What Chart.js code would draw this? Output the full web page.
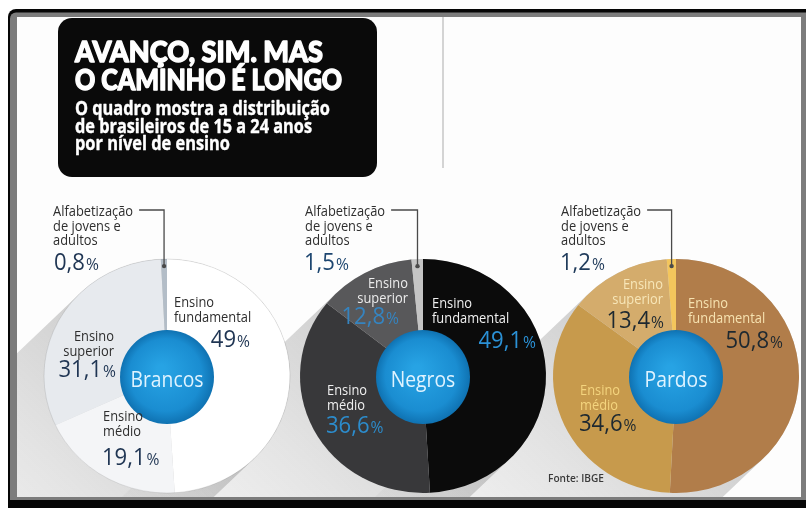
<!DOCTYPE html>
<html>
<head>
<meta charset="utf-8">
<script src="https://cdn.jsdelivr.net/npm/chart.js@4/dist/chart.umd.min.js"></script>
<style>
  html, body { margin: 0; padding: 0; background: #fff; overflow: hidden; }
  #wrap { position: relative; width: 806px; height: 508px; }
  #wrap canvas { position: absolute; left: 0; top: 0; }
</style>
</head>
<body>
<div id="wrap">
  <canvas id="bg" width="806" height="508"></canvas>
  <canvas id="pardos" width="806" height="508"></canvas>
  <canvas id="negros" width="806" height="508"></canvas>
  <canvas id="brancos" width="806" height="508"></canvas>
</div>
<script>
// ---- data -------------------------------------------------------------
// education levels, clockwise from 12 o'clock
const levels = ['Ensino fundamental', 'Ensino médio', 'Ensino superior', 'Alfabetização de jovens e adultos'];
const levelLines = [['Ensino', 'fundamental'], ['Ensino', 'médio'], ['Ensino', 'superior'], ['Alfabetização', 'de jovens e', 'adultos']];
const groups = ['Brancos', 'Negros', 'Pardos'];
// share of Brazilians aged 15-24 per level (%)
const brancos = [49, 19.1, 31.1, 0.8];
const negros  = [49.1, 36.6, 12.8, 1.5];
const pardos  = [50.8, 34.6, 13.4, 1.2];

const titleLines = ['AVANÇO, SIM. MAS', 'O CAMINHO É LONGO'];
const subtitleLines = ['O quadro mostra a distribuição', 'de brasileiros de 15 a 24 anos', 'por nível de ensino'];
const source = 'Fonte: IBGE';

// ---- layout & style ---------------------------------------------------
const W = 806, H = 508;
const INNER = { left: 17, top: 17, right: 801, bottom: 497 };
const PIE_R = 123;       // horizontal radius
const SY = 0.951;        // vertical squash of the discs
const PIE_CY = 376;
const FONT = "'Open Sans', 'DejaVu Sans', sans-serif";
const TITLE_FONT = "Lato, 'Open Sans', sans-serif";
const SX = 0.92;         // horizontal text condensing

const pies = [
  {
    canvas: 'brancos', name: groups[0], values: brancos, cx: 167, outline: true,
    colors: ['#ffffff', '#f4f5f7', '#e7eaee', '#b3bdc7'],
    labelColors: ['#2e2e2e', '#2e2e2e', '#2e2e2e', '#2e2e2e'],
    valueColors: ['#1f3553', '#1f3553', '#1f3553', '#1f3553'],
    pos: [
      { lx: 174, ly: 307, la: 'left',  vx: 250, vy: 347, va: 'right' },
      { lx: 103, ly: 421, la: 'left',  vx: 102, vy: 465, va: 'left' },
      { lx: 114, ly: 341, la: 'right', vx: 116, vy: 377, va: 'right' },
      { lx: 53,  ly: 216, la: 'left',  vx: 54,  vy: 270, va: 'left' }
    ]
  },
  {
    canvas: 'negros', name: groups[1], values: negros, cx: 423, outline: false,
    colors: ['#0b0b0b', '#38383a', '#58585a', '#c4c4c4'],
    labelColors: ['#f0f0f0', '#f0f0f0', '#ececec', '#2e2e2e'],
    valueColors: ['#2b91d6', '#2c8ccc', '#3584c0', '#1d4670'],
    pos: [
      { lx: 432, ly: 308, la: 'left',  vx: 536, vy: 348, va: 'right' },
      { lx: 327, ly: 395, la: 'left',  vx: 326, vy: 433, va: 'left' },
      { lx: 408, ly: 288, la: 'right', vx: 399, vy: 324, va: 'right' },
      { lx: 305, ly: 216, la: 'left',  vx: 304, vy: 270, va: 'left' }
    ]
  },
  {
    canvas: 'pardos', name: groups[2], values: pardos, cx: 676, outline: false,
    colors: ['#b17d4a', '#c79a4c', '#d4ac6c', '#f4c65c'],
    labelColors: ['#f6e2b0', '#f4d47e', '#f7e6b8', '#2e2e2e'],
    valueColors: ['#1d2830', '#1d2830', '#1d2830', '#1f3a5a'],
    pos: [
      { lx: 688, ly: 308, la: 'left',  vx: 783, vy: 348, va: 'right' },
      { lx: 580, ly: 395, la: 'left',  vx: 579, vy: 431, va: 'left' },
      { lx: 663, ly: 289, la: 'right', vx: 664, vy: 328, va: 'right' },
      { lx: 561, ly: 216, la: 'left',  vx: 560, vy: 270, va: 'left' }
    ],
    source: { x: 548, y: 482 }
  }
];

// ---- text helpers -----------------------------------------------------
function drawText(ctx, s, x, y, font, color, align, width, stroke) {
  ctx.save();
  ctx.font = font;
  const w = ctx.measureText(s).width;
  const k = width ? width / w : SX;
  ctx.translate(x, y);
  ctx.scale(k, 1);
  ctx.fillStyle = color;
  ctx.textAlign = align || 'left';
  ctx.textBaseline = 'alphabetic';
  if (stroke) {
    ctx.strokeStyle = color;
    ctx.lineWidth = stroke;
    ctx.lineJoin = 'round';
    ctx.strokeText(s, 0, 0);
  }
  ctx.fillText(s, 0, 0);
  ctx.restore();
  return w * k;
}

function drawValue(ctx, v, x, y, color, align) {
  const num = String(v).replace('.', ',');
  const fNum = '400 24px ' + FONT, fPct = '400 17px ' + FONT;
  ctx.save();
  ctx.font = fNum; const wn = ctx.measureText(num).width * SX;
  ctx.font = fPct; const wp = ctx.measureText('%').width * SX;
  ctx.restore();
  const x0 = align === 'right' ? x - wn - wp - 1 : x;
  drawText(ctx, num, x0, y, fNum, color, 'left');
  drawText(ctx, '%', x0 + wn + 1, y, fPct, color, 'left');
}

// ---- frame, title ------------------------------------------------------
function drawBackground() {
  const ctx = document.getElementById('bg').getContext('2d');
  ctx.fillStyle = '#ffffff';
  ctx.fillRect(0, 0, W, H);
  ctx.fillStyle = '#060606';
  ctx.beginPath(); ctx.roundRect(8, 9, W, H, [8, 0, 0, 0]); ctx.fill();
  ctx.fillStyle = '#7c7c7c';
  ctx.beginPath(); ctx.roundRect(10, 12.5, W - 10, 500 - 12.5, [6, 0, 0, 0]); ctx.fill();
  ctx.fillStyle = '#fdfdfd';
  ctx.fillRect(INNER.left, INNER.top, INNER.right - INNER.left, INNER.bottom - INNER.top);

  // thin divider at the top right
  ctx.fillStyle = '#d4d4d4';
  ctx.fillRect(442, 17, 2, 151);

  // title block
  ctx.fillStyle = '#0a0a0a';
  ctx.beginPath(); ctx.roundRect(58, 18, 319, 159, 14); ctx.fill();
  drawText(ctx, titleLines[0], 75, 62, '900 29px ' + TITLE_FONT, '#ffffff', 'left', 248, 1.4);
  drawText(ctx, titleLines[1], 75, 90, '900 29px ' + TITLE_FONT, '#ffffff', 'left', 267, 1.4);
  const subW = [255, 237, 155];
  subtitleLines.forEach((s, i) => {
    drawText(ctx, s, 75, 115 + i * 17.5, '700 19px ' + FONT, '#ffffff', 'left', subW[i], 0.4);
  });
}

// ---- pie decorations (shadow, squash, hub, labels) --------------------
function decorPlugin(p) {
  return {
    id: 'decor_' + p.canvas,
    beforeDatasetsDraw(chart) {
      const ctx = chart.ctx;
      const arc = chart.getDatasetMeta(0).data[0];
      const x = arc.x, y = arc.y, r = arc.outerRadius;
      // long shadow falling down-left
      ctx.save();
      ctx.beginPath();
      ctx.rect(INNER.left, INNER.top, INNER.right - INNER.left, INNER.bottom - INNER.top);
      ctx.clip();
      ctx.translate(x, y);
      ctx.scale(1, SY);
      const k = Math.SQRT1_2, L = 500;
      const g = ctx.createLinearGradient(0, 0, -k * 330, k * 330);
      g.addColorStop(0, 'rgba(60,60,60,0.24)');
      g.addColorStop(0.45, 'rgba(60,60,60,0.13)');
      g.addColorStop(1, 'rgba(60,60,60,0.02)');
      ctx.fillStyle = g;
      ctx.beginPath();
      ctx.moveTo(-r * k, -r * k);
      ctx.lineTo(-r * k - L * k, -r * k + L * k);
      ctx.lineTo(r * k - L * k, r * k + L * k);
      ctx.lineTo(r * k, r * k);
      ctx.arc(0, 0, r, Math.PI / 4, -3 * Math.PI / 4, true);
      ctx.closePath();
      ctx.fill();
      ctx.restore();
      // squash the disc slightly
      ctx.save();
      ctx.translate(x, y);
      ctx.scale(1, SY);
      ctx.translate(-x, -y);
    },
    afterDatasetsDraw(chart) {
      const ctx = chart.ctx;
      const meta = chart.getDatasetMeta(0);
      const arc = meta.data[0];
      const x = arc.x, y = arc.y, r = arc.outerRadius;
      if (p.outline) {
        ctx.beginPath();
        ctx.arc(x, y, r, 0, Math.PI * 2);
        ctx.strokeStyle = 'rgba(0,0,0,0.10)';
        ctx.lineWidth = 1;
        ctx.stroke();
      }
      ctx.restore();

      // blue hub
      const hy = y + 1, hr = 47;
      const hg = ctx.createRadialGradient(x - 6, hy - 8, 4, x, hy, hr);
      hg.addColorStop(0, '#27a3e4');
      hg.addColorStop(0.75, '#1a8dd1');
      hg.addColorStop(1, '#0f72b2');
      ctx.beginPath();
      ctx.arc(x, hy, hr, 0, Math.PI * 2);
      ctx.fillStyle = hg;
      ctx.fill();
      drawText(ctx, p.name, x, hy + 10, '400 21px ' + FONT, '#dff3ff', 'center');

      // labels & values
      p.values.forEach((v, i) => {
        const q = p.pos[i];
        levelLines[i].forEach((line, j) => {
          drawText(ctx, line, q.lx, q.ly + j * 14.5, '400 14px ' + FONT, p.labelColors[i], q.la);
        });
        drawValue(ctx, v, q.vx, q.vy, p.valueColors[i], q.va);
      });

      // leader line to the thin literacy slice
      const a = meta.data[3];
      const mid = (a.startAngle + a.endAngle) / 2;
      const lxp = x + Math.cos(mid) * r * 0.95;
      const lyp = y + Math.sin(mid) * r * SY * 0.94;
      const q = p.pos[3];
      ctx.save();
      ctx.font = '400 14px ' + FONT;
      const tw = ctx.measureText(levelLines[3][0]).width * SX;
      ctx.restore();
      const ly0 = q.ly - 6;
      ctx.beginPath();
      ctx.moveTo(q.lx + tw + 6, ly0);
      ctx.lineTo(lxp, ly0);
      ctx.lineTo(lxp, lyp);
      ctx.strokeStyle = '#4a4a4a';
      ctx.lineWidth = 1.3;
      ctx.stroke();
      ctx.beginPath();
      ctx.arc(lxp, lyp, 2.2, 0, Math.PI * 2);
      ctx.fillStyle = '#4a4a4a';
      ctx.fill();

      if (p.source) {
        drawText(ctx, source, p.source.x, p.source.y, '600 11px ' + FONT, '#3a3a3a', 'left');
      }
    }
  };
}

function makePie(p) {
  const half = 130;
  return new Chart(document.getElementById(p.canvas), {
    type: 'pie',
    data: {
      labels: levels,
      datasets: [{
        data: p.values,
        backgroundColor: p.colors,
        borderWidth: 0,
        radius: PIE_R
      }]
    },
    options: {
      responsive: false,
      animation: false,
      events: [],
      layout: {
        padding: {
          left: p.cx - half,
          right: W - p.cx - half,
          top: PIE_CY - half,
          bottom: H - PIE_CY - half
        }
      },
      plugins: { legend: { display: false }, tooltip: { enabled: false } }
    },
    plugins: [decorPlugin(p)]
  });
}

drawBackground();
pies.forEach(makePie);
</script>
</body>
</html>
